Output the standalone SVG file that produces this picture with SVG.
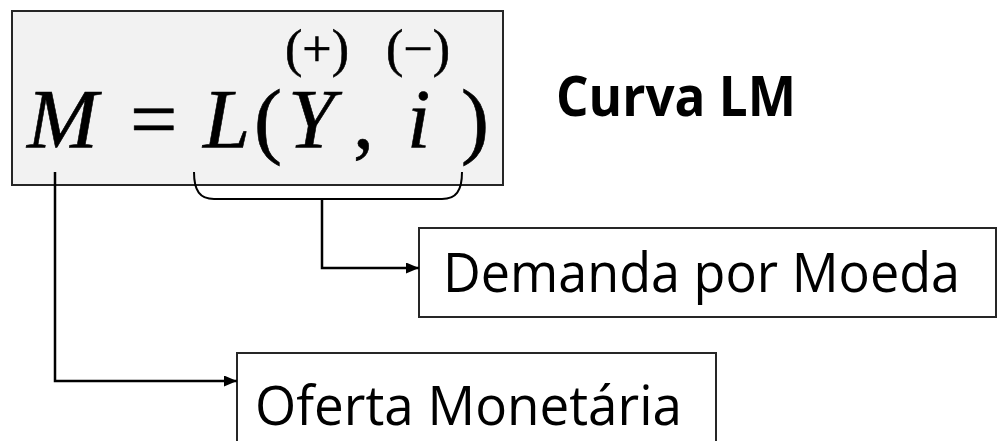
<svg xmlns="http://www.w3.org/2000/svg" width="1001" height="441" viewBox="0 0 1001 441">
<style>
.box{fill:#ffffff;stroke:#262626;stroke-width:2}
.eqbox{fill:#f2f2f2;stroke:#262626;stroke-width:2}
.serif{font-family:"Liberation Serif","Times New Roman",serif;fill:#000;stroke:#000;stroke-width:0.6}
.it{font-style:italic}
.lbl{font-family:"Open Sans","Noto Sans",sans-serif;font-size:54px;fill:#000}
.title{font-family:"Open Sans","Noto Sans",sans-serif;font-size:56px;font-weight:bold;fill:#000}
.conn{fill:none;stroke:#000;stroke-width:2.5}
.brace{fill:none;stroke:#000;stroke-width:2}
</style>
<defs>
<marker id="arr" markerUnits="userSpaceOnUse" markerWidth="13" markerHeight="11" refX="13" refY="5.5" orient="auto">
<path d="M0,0 L13,5.5 L0,11 z" fill="#000"/>
</marker>
</defs>
<g id="equation">
<rect class="eqbox" x="12" y="11" width="491" height="174"/>
<text class="serif it" x="27" y="148" font-size="85">M</text>
<text class="serif" x="130" y="148" font-size="84">=</text>
<text class="serif it" x="203" y="148" font-size="85">L</text>
<text class="serif" x="254" y="148" font-size="84">(</text>
<text class="serif it" x="288" y="148" font-size="84">Y</text>
<text class="serif" x="353" y="148" font-size="84">,</text>
<text class="serif it" x="407" y="148" font-size="84">i</text>
<text class="serif" x="461" y="148" font-size="84">)</text>
<text class="serif" x="285" y="66" font-size="52" stroke-width="0.3">(+)</text>
<text class="serif" x="386" y="66" font-size="52" stroke-width="0.3">(−)</text>
</g>
<g id="title">
<text class="title" x="556" y="116" textLength="240" lengthAdjust="spacingAndGlyphs">Curva LM</text>
</g>
<g id="demanda">
<rect class="box" x="419" y="228" width="577" height="89"/>
<text class="lbl" x="443" y="292" textLength="517" lengthAdjust="spacingAndGlyphs">Demanda por Moeda</text>
</g>
<g id="oferta">
<rect class="box" x="237" y="353" width="479" height="110"/>
<text class="lbl" x="255" y="425" textLength="427" lengthAdjust="spacingAndGlyphs">Oferta Monetária</text>
</g>
<g id="connectors">
<path class="brace" d="M194,172 C194,191 200,199 214,199 L442,199 C456,199 462,191 462,172"/>
<path class="conn" d="M322,199 V268 H419" marker-end="url(#arr)"/>
<path class="conn" d="M55,172 V381 H237" marker-end="url(#arr)"/>
</g>
</svg>
